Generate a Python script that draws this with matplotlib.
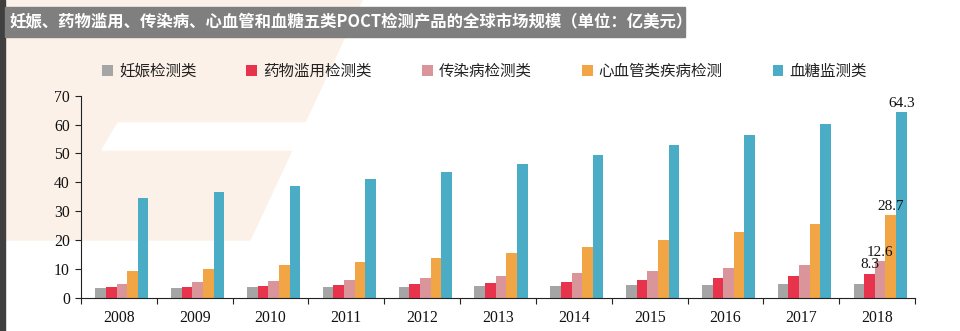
import numpy as np
import matplotlib
matplotlib.use('Agg')
import matplotlib.pyplot as plt
from matplotlib.patches import Rectangle, Polygon

# ==================== 数据 ====================
years = ['2008', '2009', '2010', '2011', '2012', '2013', '2014', '2015', '2016', '2017', '2018']
series_names = ['妊娠检测类', '药物滥用检测类', '传染病检测类', '心血管类疾病检测', '血糖监测类']
pregnancy = [3.3, 3.3, 3.6, 3.6, 3.8, 4.0, 4.2, 4.4, 4.4, 4.6, 4.9]
drug = [3.6, 3.8, 4.2, 4.3, 4.6, 5.2, 5.6, 6.2, 6.8, 7.5, 8.3]
infect = [4.9, 5.4, 5.9, 6.2, 6.8, 7.6, 8.4, 9.2, 10.3, 11.3, 12.6]
cardio = [9.4, 10.1, 11.2, 12.4, 13.8, 15.6, 17.7, 20.0, 22.6, 25.5, 28.7]
glucose = [34.5, 36.5, 38.7, 41.2, 43.6, 46.3, 49.4, 52.8, 56.5, 60.2, 64.3]
colors = ['#A5A5A5', '#E8334D', '#D9959A', '#F2A544', '#4BACC6']

title = '妊娠、药物滥用、传染病、心血管和血糖五类POCT检测产品的全球市场规模（单位：亿美元）'

plt.rcParams['font.family'] = ['Noto Sans CJK SC', 'DejaVu Sans']

W, H = 960, 331


def px(xp, yp):
    # 像素坐标 -> figure 坐标
    return (xp / W, 1 - yp / H)


fig = plt.figure(figsize=(9.6, 3.31), dpi=100)
fig.patch.set_facecolor('white')

# 背景水印（浅色）
fig.patches.append(Polygon([px(5, 0), px(362, 0), px(250, 240), px(5, 240)],
                           closed=True, transform=fig.transFigure,
                           color='#FCF1E8', zorder=-3))
fig.patches.append(Polygon([px(118, 123), px(345, 123), px(333, 150), px(102, 150)],
                           closed=True, transform=fig.transFigure,
                           color='white', zorder=-2))

# 左侧深色边 + 标题条
fig.patches.append(Rectangle((0, 0), 5 / W, 1, transform=fig.transFigure,
                             color='#3f3f3f', zorder=-1))
fig.patches.append(Rectangle(px(5, 37), 680 / W, 30 / H,
                             transform=fig.transFigure, color='#7f7f7f', zorder=-1))
fig.text(9 / W, 1 - 22 / H, title, color='white', fontsize=11.8,
         fontweight='bold', va='center', ha='left')

ax = fig.add_axes([81 / W, 1 - 297.7 / H, 834 / W, 202 / H])
ax.set_facecolor('none')
ax.set_zorder(2)

data = [pregnancy, drug, infect, cardio, glucose]
x = np.arange(len(years))
width = 0.14
bars = []
for i, (vals, c, name) in enumerate(zip(data, colors, series_names)):
    b = ax.bar(x + (i - 2) * width + 0.04, vals, width, color=c, label=name, linewidth=0)
    bars.append(b)

# 2018 数据标签
for i in range(1, 5):
    v = data[i][-1]
    ax.text(x[-1] + (i - 2) * width + 0.04, v + 0.8, f'{v}', ha='center', va='bottom',
            fontsize=11, family='Liberation Serif', color='#111111')

ax.set_xlim(-0.5, len(years) - 0.5)
ax.set_ylim(0, 70)
ax.set_yticks(range(0, 71, 10))
ax.set_xticks(x)
ax.set_xticklabels(years)
ax.set_xticks(np.arange(-0.5, len(years), 1), minor=True)
ax.tick_params(axis='x', which='major', length=0, pad=9)
ax.tick_params(axis='x', which='minor', length=4, direction='out', width=0.8, color='#222222')
ax.tick_params(axis='y', length=4, direction='out', width=0.8, color='#222222', pad=4)
for lab in ax.get_xticklabels() + ax.get_yticklabels():
    lab.set_family('Liberation Serif')
    lab.set_fontsize(11.3)
    lab.set_color('#111111')

for s in ['top', 'right']:
    ax.spines[s].set_visible(False)
for s in ['left', 'bottom']:
    ax.spines[s].set_color('#222222')
    ax.spines[s].set_linewidth(0.8)

fig.legend(handles=bars, labels=series_names, loc='center left',
           bbox_to_anchor=px(88, 71), ncol=5, frameon=False,
           handlelength=0.7, handleheight=0.7, handletextpad=0.4,
           columnspacing=3.2, fontsize=11.2, labelcolor='#222222')

fig.savefig('out.png', dpi=100)
